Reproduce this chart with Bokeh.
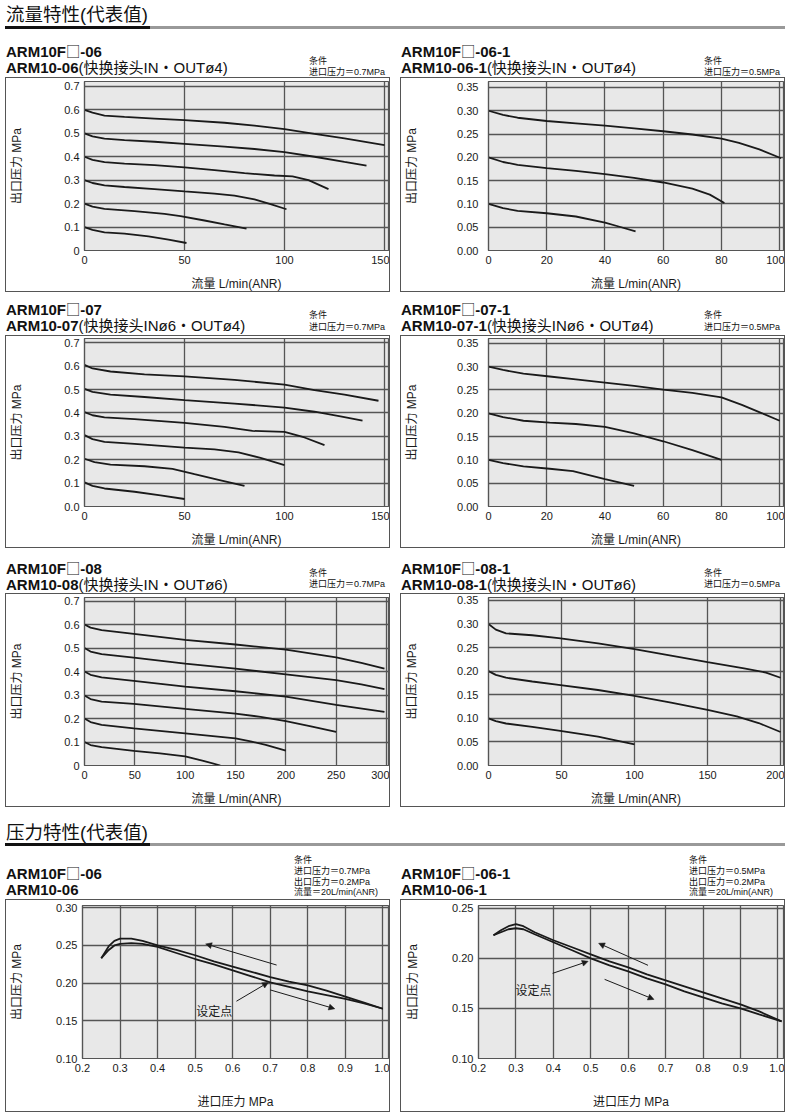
from bokeh.plotting import figure
from bokeh.layouts import column, row
from bokeh.models import Div, FixedTicker, PrintfTickFormatter, Range1d, Arrow, NormalHead, Label
from bokeh.embed import file_html
from bokeh.resources import INLINE

# ---------------- data ----------------
# Flow characteristics: outlet pressure (MPa) vs flow (L/min ANR)
f06_x = [[0, 4, 10, 20, 35, 50, 70, 85, 100, 115, 130, 150],
         [0, 4, 10, 20, 35, 50, 70, 85, 100, 115, 130, 141],
         [0, 4, 10, 20, 35, 50, 65, 80, 95, 104, 112, 122],
         [0, 4, 10, 20, 35, 50, 65, 75, 85, 93, 101],
         [0, 4, 10, 25, 40, 48, 60, 70, 81],
         [0, 4, 10, 20, 32, 42, 51]]
f06_y = [[0.600, 0.588, 0.575, 0.570, 0.563, 0.556, 0.545, 0.533, 0.518, 0.498, 0.478, 0.450],
         [0.500, 0.487, 0.477, 0.471, 0.464, 0.455, 0.443, 0.433, 0.420, 0.400, 0.378, 0.362],
         [0.400, 0.387, 0.377, 0.371, 0.364, 0.355, 0.343, 0.330, 0.320, 0.316, 0.300, 0.262],
         [0.300, 0.288, 0.278, 0.271, 0.262, 0.252, 0.243, 0.234, 0.218, 0.198, 0.176],
         [0.200, 0.187, 0.178, 0.168, 0.156, 0.147, 0.128, 0.111, 0.093],
         [0.100, 0.088, 0.077, 0.072, 0.060, 0.046, 0.032]]

f061_x = [[0, 5, 10, 20, 30, 40, 50, 60, 70, 80, 86, 93, 100.5],
          [0, 5, 10, 20, 30, 40, 50, 60, 70, 76, 81],
          [0, 5, 10, 20, 30, 40, 45, 50.5]]
f061_y = [[0.300, 0.291, 0.285, 0.278, 0.273, 0.268, 0.262, 0.256, 0.249, 0.240, 0.231, 0.217, 0.198],
          [0.200, 0.190, 0.184, 0.177, 0.171, 0.164, 0.156, 0.146, 0.133, 0.120, 0.102],
          [0.100, 0.091, 0.085, 0.080, 0.073, 0.060, 0.051, 0.041]]

f07_x = [[0, 4, 13, 30, 50, 75, 100, 115, 130, 147],
         [0, 4, 13, 30, 50, 75, 100, 115, 128, 139],
         [0, 4, 10, 25, 50, 70, 84, 100, 110, 120],
         [0, 4, 10, 25, 50, 65, 77, 88, 100],
         [0, 5, 13, 30, 44, 55, 67, 80],
         [0, 4, 10, 25, 38, 50]]
f07_y = [[0.605, 0.590, 0.577, 0.565, 0.556, 0.541, 0.521, 0.497, 0.478, 0.452],
         [0.503, 0.490, 0.478, 0.468, 0.455, 0.440, 0.423, 0.405, 0.385, 0.367],
         [0.403, 0.390, 0.381, 0.373, 0.357, 0.340, 0.323, 0.319, 0.295, 0.262],
         [0.305, 0.288, 0.276, 0.268, 0.252, 0.244, 0.231, 0.208, 0.177],
         [0.204, 0.190, 0.179, 0.172, 0.161, 0.138, 0.114, 0.088],
         [0.103, 0.088, 0.077, 0.063, 0.048, 0.032]]

f071_x = [[0, 5, 12, 21, 30, 40, 50, 60, 70, 80, 87, 94, 100],
          [0, 5, 12, 21, 30, 40, 50, 60, 70, 80],
          [0, 5, 12, 21, 29, 40, 50]]
f071_y = [[0.300, 0.293, 0.285, 0.279, 0.273, 0.266, 0.259, 0.251, 0.244, 0.234, 0.218, 0.200, 0.184],
          [0.200, 0.192, 0.184, 0.180, 0.177, 0.171, 0.157, 0.140, 0.121, 0.100],
          [0.100, 0.093, 0.086, 0.081, 0.076, 0.059, 0.044]]

f08_x = [[0, 6, 17, 49, 100, 150, 200, 250, 275, 298],
         [0, 6, 17, 49, 100, 150, 200, 250, 275, 298],
         [0, 6, 17, 49, 100, 150, 200, 250, 298],
         [0, 6, 17, 49, 100, 150, 175, 200, 225, 250],
         [0, 6, 17, 49, 100, 150, 165, 180, 200],
         [0, 6, 17, 49, 75, 100, 118, 135]]
f08_y = [[0.600, 0.587, 0.576, 0.560, 0.535, 0.515, 0.493, 0.460, 0.437, 0.412],
         [0.500, 0.485, 0.474, 0.459, 0.434, 0.412, 0.388, 0.363, 0.345, 0.325],
         [0.400, 0.386, 0.375, 0.360, 0.336, 0.316, 0.293, 0.258, 0.228],
         [0.298, 0.283, 0.272, 0.262, 0.241, 0.221, 0.207, 0.189, 0.167, 0.143],
         [0.200, 0.185, 0.173, 0.158, 0.137, 0.115, 0.103, 0.088, 0.063],
         [0.100, 0.087, 0.078, 0.062, 0.052, 0.039, 0.020, 0.000]]

f081_x = [[0, 5, 12, 30, 48, 75, 99, 125, 150, 175, 190, 200],
          [0, 5, 12, 30, 48, 75, 99, 125, 150, 170, 185, 200],
          [0, 5, 12, 30, 48, 75, 100]]
f081_y = [[0.300, 0.288, 0.280, 0.276, 0.270, 0.259, 0.247, 0.233, 0.219, 0.206, 0.197, 0.186],
          [0.200, 0.192, 0.186, 0.178, 0.171, 0.160, 0.148, 0.133, 0.118, 0.104, 0.090, 0.071],
          [0.100, 0.094, 0.089, 0.082, 0.074, 0.061, 0.045]]

# Pressure characteristics: outlet pressure vs inlet pressure (MPa)
p06_x = [0.25, 0.27, 0.285, 0.30, 0.33, 0.36, 0.40, 0.45, 0.50, 0.55, 0.60, 0.65, 0.70, 0.75, 0.80, 0.85, 0.90, 0.95, 1.00]
p06_up = [0.233, 0.249, 0.256, 0.259, 0.259, 0.256, 0.250, 0.244, 0.237, 0.229, 0.222, 0.215, 0.208, 0.202, 0.197, 0.190, 0.182, 0.174, 0.166]
p06_dn = [0.233, 0.244, 0.250, 0.252, 0.253, 0.252, 0.248, 0.240, 0.232, 0.225, 0.217, 0.209, 0.201, 0.195, 0.189, 0.184, 0.179, 0.173, 0.166]
p06_arrows = [[0.717, 0.224, 0.528, 0.252], [0.700, 0.191, 0.872, 0.166], [0.610, 0.176, 0.695, 0.201]]
p06_setpoint_label = [0.503, 0.162]

p061_x = [0.24, 0.26, 0.28, 0.30, 0.32, 0.35, 0.40, 0.45, 0.50, 0.55, 0.60, 0.65, 0.70, 0.75, 0.80, 0.85, 0.90, 0.95, 1.01]
p061_up = [0.223, 0.228, 0.232, 0.234, 0.232, 0.226, 0.218, 0.211, 0.204, 0.197, 0.191, 0.184, 0.178, 0.172, 0.166, 0.160, 0.154, 0.147, 0.137]
p061_dn = [0.223, 0.226, 0.229, 0.230, 0.229, 0.224, 0.216, 0.208, 0.200, 0.193, 0.187, 0.180, 0.174, 0.167, 0.161, 0.155, 0.150, 0.144, 0.137]
p061_arrows = [[0.653, 0.193, 0.521, 0.215], [0.537, 0.179, 0.669, 0.159], [0.398, 0.185, 0.493, 0.197]]
p061_setpoint_label = [0.299, 0.167]

# ticks
flow150_xticks = [0, 50, 100, 150]
flow100_xticks = [0, 20, 40, 60, 80, 100]
flow300_xticks = [0, 50, 100, 150, 200, 250, 300]
flow200_xticks = [0, 50, 100, 150, 200]
p07_yticks = [0, 0.1, 0.2, 0.3, 0.4, 0.5, 0.6, 0.7]
p035_yticks = [0, 0.05, 0.1, 0.15, 0.2, 0.25, 0.3, 0.35]
inlet_xticks = [0.2, 0.3, 0.4, 0.5, 0.6, 0.7, 0.8, 0.9, 1.0]
p030_yticks = [0.10, 0.15, 0.20, 0.25, 0.30]
p025_yticks = [0.10, 0.15, 0.20, 0.25]

# ---------------- styling ----------------
FONT = "Liberation Sans, Noto Sans CJK SC, sans-serif"
CSSFONT = "'Liberation Sans', 'Noto Sans CJK SC', sans-serif"
CJK = "'Noto Sans CJK SC', sans-serif"
W = 385
INK = "#1a1a1a"
GRID = "#555555"
BOX = '<span style="font-family:' + CJK + ';font-weight:normal;font-size:0.95em">□</span>'


def base_fig(xr, yr, xticks, yticks, xfmt, yfmt, yover, height, left, top, bottom,
             ytick_so, ylab_so, xlab, xlab_so):
    p = figure(width=W, height=height, x_range=Range1d(*xr), y_range=Range1d(*yr),
               output_backend="svg", toolbar_location=None,
               min_border_left=left, min_border_right=3, min_border_top=top,
               min_border_bottom=bottom)
    p.background_fill_color = "#e8e8e8"
    p.border_fill_color = "white"
    p.outline_line_color = GRID
    p.outline_line_width = 1.2
    p.xaxis.ticker = FixedTicker(ticks=xticks)
    p.yaxis.ticker = FixedTicker(ticks=yticks)
    p.xaxis.formatter = PrintfTickFormatter(format=xfmt)
    p.yaxis.formatter = PrintfTickFormatter(format=yfmt)
    if yover:
        p.yaxis.major_label_overrides = yover
    p.grid.grid_line_color = GRID
    p.grid.grid_line_width = 1.3
    p.axis.axis_line_color = GRID
    p.axis.axis_line_width = 1.2
    p.axis.major_tick_line_color = None
    p.axis.minor_tick_line_color = None
    p.axis.major_tick_out = 0
    p.axis.major_tick_in = 0
    p.axis.major_label_text_font = FONT
    p.axis.major_label_text_font_size = "11px"
    p.axis.major_label_text_color = INK
    p.xaxis.major_label_standoff = 5
    p.yaxis.major_label_standoff = ytick_so
    p.axis.axis_label_text_font = FONT
    p.axis.axis_label_text_font_size = "12px"
    p.axis.axis_label_text_font_style = "normal"
    p.axis.axis_label_text_color = INK
    p.yaxis.axis_label = "出口压力 MPa"
    p.yaxis.axis_label_standoff = ylab_so
    p.xaxis.axis_label = xlab
    p.xaxis.axis_label_standoff = xlab_so
    p.styles = {"border": "1px solid #555"}
    return p


def flow_fig(xs, ys, xr, yr, xticks, yticks, yfmt, yover, height, left, top, bottom, ytick_so, ylab_so):
    p = base_fig(xr, yr, xticks, yticks, "%d", yfmt, yover, height, left, top, bottom,
                 ytick_so, ylab_so, "流量 L/min(ANR)", 10)
    for x, y in zip(xs, ys):
        p.line(x, y, line_color=INK, line_width=1.8)
    return p


def press_fig(x, up, dn, arrows, lab, yr, yticks, left):
    p = base_fig((0.2, 1.015), yr, inlet_xticks, yticks, "%.1f", "%.2f", None, 213, left, 5, 55,
                 5, 29, "进口压力 MPa", 20)
    p.line(x, up, line_color=INK, line_width=1.8)
    p.line(x, dn, line_color=INK, line_width=1.8)
    for a in arrows:
        p.add_layout(Arrow(end=NormalHead(size=6, fill_color=INK, line_color=INK, line_width=0.5),
                           x_start=a[0], y_start=a[1], x_end=a[2], y_end=a[3],
                           line_color=INK, line_width=1))
    p.add_layout(Label(x=lab[0], y=lab[1], text="设定点", text_font=FONT,
                       text_font_size="12px", text_baseline="middle", text_color=INK))
    return p


def header(text, height, text_top, bar_top):
    html = (f'<div style="position:relative;width:780px;height:{height}px;">'
            f'<div style="position:absolute;left:1px;top:{text_top}px;font-family:{CSSFONT};'
            f'font-size:18.5px;line-height:20px;color:#111;white-space:nowrap">{text}</div>'
            f'<div style="position:absolute;left:0px;top:{bar_top}px;width:145px;height:3px;background:#111"></div>'
            f'<div style="position:absolute;left:145px;top:{bar_top}px;width:635px;height:3px;background:#999"></div>'
            '</div>')
    return Div(text=html, width=780, height=height, margin=0)


def title(line1, bold2, rest2, conds, height, l1_top, l2_top, c_top, c_right, c_lh):
    html = (f'<div style="position:relative;width:{W}px;height:{height}px;font-family:{CSSFONT};color:#111">'
            f'<div style="position:absolute;left:1px;top:{l1_top}px;font-size:15px;line-height:17px;'
            f'font-weight:bold;white-space:nowrap">{line1.replace("□", BOX)}</div>'
            f'<div style="position:absolute;left:1px;top:{l2_top}px;font-size:15px;line-height:17px;'
            f'white-space:nowrap"><b>{bold2}</b>{rest2}</div>'
            f'<div style="position:absolute;right:{c_right}px;top:{c_top}px;font-size:9px;'
            f'line-height:{c_lh}px;white-space:nowrap">' + "<br>".join(conds) + '</div>'
            '</div>')
    return Div(text=html, width=W, height=height, margin=0)


# ---------------- panels ----------------
c07 = ["条件", "进口压力＝0.7MPa"]
c05 = ["条件", "进口压力＝0.5MPa"]

h1 = header("流量特性(代表值)", 34, 5, 26)

t1 = title("ARM10F□-06", "ARM10-06", "(快换接头IN・OUTø4)", c07, 43, 8, 25, 22, 5, 11)
t2 = title("ARM10F□-06-1", "ARM10-06-1", "(快换接头IN・OUTø4)", c05, 43, 8, 25, 22, 5, 11)
fig1 = flow_fig(f06_x, f06_y, (0, 152), (0, 0.721), flow150_xticks, p07_yticks, "%.1f", {0: "0"},
                215, 78, 3, 41, 5, 37)
fig2 = flow_fig(f061_x, f061_y, (0, 101.3), (0, 0.3628), flow100_xticks, p035_yticks, "%.2f", None,
                215, 87, 3, 41, 10, 35)

t3 = title("ARM10F□-07", "ARM10-07", "(快换接头INø6・OUTø4)", c07, 43, 8, 25, 18, 5, 11.5)
t4 = title("ARM10F□-07-1", "ARM10-07-1", "(快换接头INø6・OUTø4)", c05, 43, 8, 25, 18, 5, 11.5)
fig3 = flow_fig(f07_x, f07_y, (0, 152), (0, 0.718), flow150_xticks, p07_yticks, "%.1f", None,
                213, 78, 2, 40, 5, 37)
fig4 = flow_fig(f071_x, f071_y, (0, 101.3), (0, 0.3605), flow100_xticks, p035_yticks, "%.2f", None,
                213, 87, 2, 40, 10, 35)

t5 = title("ARM10F□-08", "ARM10-08", "(快换接头IN・OUTø6)", c07, 45, 11, 28, 20, 5, 11)
t6 = title("ARM10F□-08-1", "ARM10-08-1", "(快换接头IN・OUTø6)", c05, 45, 11, 28, 20, 5, 11)
fig5 = flow_fig(f08_x, f08_y, (0, 302), (0, 0.715), flow300_xticks, p07_yticks, "%.1f", {0: "0"},
                214, 78, 3, 40, 5, 37)
fig6 = flow_fig(f081_x, f081_y, (0, 202), (0, 0.356), flow200_xticks, p035_yticks, "%.2f", None,
                214, 87, 3, 40, 10, 35)

h2 = header("压力特性(代表值)", 40, 16, 36)
t7 = title("ARM10F□-06", "ARM10-06", "",
           ["条件", "进口压力＝0.7MPa", "出口压力＝0.2MPa", "流量＝20L/min(ANR)"], 52, 17, 34, 8, 12, 10.8)
t8 = title("ARM10F□-06-1", "ARM10-06-1", "",
           ["条件", "进口压力＝0.5MPa", "出口压力＝0.2MPa", "流量＝20L/min(ANR)"], 52, 17, 34, 8, 12, 10.8)
fig7 = press_fig(p06_x, p06_up, p06_dn, p06_arrows, p06_setpoint_label, (0.10, 0.303), p030_yticks, 76)
fig8 = press_fig(p061_x, p061_up, p061_dn, p061_arrows, p061_setpoint_label, (0.10, 0.2527), p025_yticks, 77)

layout = column(
    h1,
    row(t1, t2, spacing=10), row(fig1, fig2, spacing=10),
    row(t3, t4, spacing=10), row(fig3, fig4, spacing=10),
    row(t5, t6, spacing=10), row(fig5, fig6, spacing=10),
    h2,
    row(t7, t8, spacing=10), row(fig7, fig8, spacing=10),
    spacing=0,
    margin=(0, 0, 0, 5),
)

open("out.html", "w").write(file_html(layout, INLINE, title="流量特性"))
